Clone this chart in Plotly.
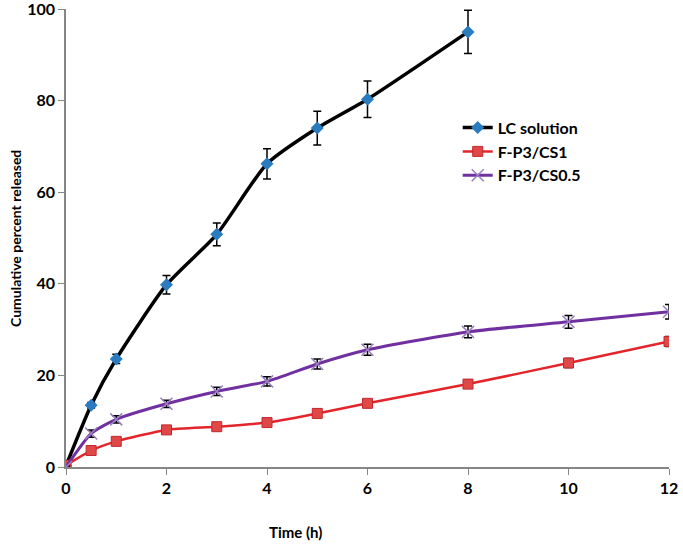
import plotly.graph_objects as go

time_lc = [0, 0.5, 1, 2, 3, 4, 5, 6, 8]
lc_solution = [0.3, 13.5, 23.6, 39.8, 50.8, 66.2, 74.0, 80.3, 95.0]
lc_err = [0.3, 0.6, 1.0, 2.0, 2.5, 3.3, 3.7, 4.0, 4.7]

time_f = [0, 0.5, 1, 2, 3, 4, 5, 6, 8, 10, 12]
fp3_cs1 = [0.4, 3.6, 5.6, 8.1, 8.8, 9.7, 11.7, 13.9, 18.1, 22.7, 27.4]
fp3_cs1_err = [0.2, 0.4, 0.5, 0.6, 0.6, 0.7, 0.7, 0.8, 0.9, 1.0, 1.1]
fp3_cs05 = [0.0, 7.3, 10.4, 13.8, 16.5, 18.7, 22.5, 25.6, 29.5, 31.7, 33.9]
fp3_cs05_err = [0.2, 0.8, 0.8, 0.8, 0.9, 1.0, 1.1, 1.2, 1.3, 1.4, 1.6]

x_ticks = [0, 2, 4, 6, 8, 10, 12]
y_ticks = [0, 20, 40, 60, 80, 100]

font_family = "Lato, 'Open Sans', sans-serif"

fig = go.Figure()
fig.add_trace(go.Scatter(
    x=time_lc, y=lc_solution, name="LC solution", mode="lines+markers", legendgroup="a",
    line=dict(color="black", width=3.5, shape="spline", smoothing=0.6),
    marker=dict(symbol="diamond", size=10, color="#2A7BC0"),
    error_y=dict(type="data", array=lc_err, color="black", thickness=1.5, width=4),
))
fig.add_trace(go.Scatter(
    x=time_f, y=fp3_cs1, name="F-P3/CS1", mode="lines+markers", legendgroup="b",
    line=dict(color="#E3242B", width=2.5, shape="spline", smoothing=0.6),
    marker=dict(symbol="square", size=10, color="#E04848", line=dict(color="#C0282E", width=1)),
    error_y=dict(type="data", array=fp3_cs1_err, color="black", thickness=1.5, width=4),
))
fig.add_trace(go.Scatter(
    x=time_f, y=fp3_cs05, name="F-P3/CS0.5", mode="lines+markers", legendgroup="c",
    line=dict(color="#7030A0", width=3, shape="spline", smoothing=0.6),
    marker=dict(symbol="x-thin", size=12, color="#9A7FC0", line=dict(color="#9A7FC0", width=1.5)),
    error_y=dict(type="data", array=fp3_cs05_err, color="black", thickness=1.5, width=4),
))

fig.update_layout(
    width=683, height=546,
    margin=dict(l=66, r=14, t=9, b=79),
    paper_bgcolor="white", plot_bgcolor="white",
    font=dict(family=font_family, color="black"),
    showlegend=True,
    legend=dict(x=0.6496, y=0.778, xanchor="left", yanchor="top",
                font=dict(size=16, family=font_family, weight="bold", color="black"),
                bgcolor="rgba(0,0,0,0)", tracegroupgap=0, itemwidth=30),
    annotations=[
        dict(text="Time (h)", xref="paper", yref="paper", x=0.381, y=-0.142,
             xanchor="center", yanchor="middle", showarrow=False,
             font=dict(size=15, family=font_family, weight="bold", color="black")),
        dict(text="Cumulative percent released", xref="paper", yref="paper",
             x=-0.0846, y=0.5, xanchor="center", yanchor="middle", showarrow=False,
             textangle=-90, font=dict(size=14, family=font_family, weight="bold", color="black")),
    ],
)
fig.update_xaxes(
    range=[0, 12], tickvals=x_ticks, showgrid=False, zeroline=False, automargin=False,
    showline=True, linecolor="#868686", linewidth=1.5,
    ticks="outside", ticklen=6, tickcolor="#868686", ticklabeloverflow="allow",
    tickfont=dict(size=16, family=font_family, weight="bold", color="black"),
)
fig.update_yaxes(
    range=[0, 100], tickvals=y_ticks, showgrid=False, zeroline=False, automargin=False,
    showline=True, linecolor="#868686", linewidth=1.5,
    ticks="outside", ticklen=6, tickcolor="#868686", ticklabeloverflow="allow",
    tickfont=dict(size=16, family=font_family, weight="bold", color="black"),
)

fig.write_html("out.html", config={"displayModeBar": False},
               post_script="document.body.style.margin='0';document.body.style.overflow='hidden';")
